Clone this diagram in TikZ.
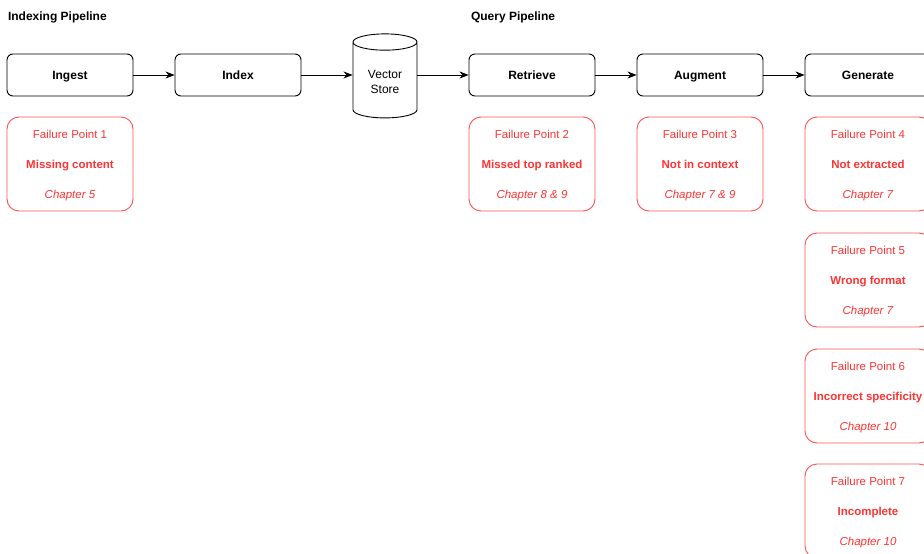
\documentclass[tikz,border=0pt]{standalone}
\usepackage{fontspec}
\setmainfont{Liberation Sans}
\usetikzlibrary{shapes.geometric,arrows.meta}
\definecolor{failred}{RGB}{255,51,51}
\begin{document}
\begin{tikzpicture}[x=1pt,y=-1pt,
    stage/.style={draw, rounded corners=6pt, line width=0.9pt,
        minimum width=126pt, minimum height=42pt,
        text height=8.6pt, text depth=0pt,
        font=\fontsize{12}{14}\selectfont\bfseries},
    failbox/.style={draw=failred!85, rounded corners=12pt, line width=0.9pt,
        minimum width=126pt, minimum height=94pt, text=failred,
        text height=70pt, text depth=2pt,
        align=center, font=\fontsize{11.5}{30}\selectfont},
    flow/.style={-{Stealth[length=9pt,width=7pt]}, line width=0.9pt}]

    \def\rowA{75}     
    \def\rowB{164}    

    \useasboundingbox (0,0) rectangle (924,554);

    % pipeline titles
    \node[anchor=west, font=\fontsize{12}{14}\selectfont\bfseries] (titleA) at (4.5,17.5) {Indexing Pipeline};
    \node[anchor=west, font=\fontsize{12}{14}\selectfont\bfseries] (titleB) at (467.5,17.5) {Query Pipeline};

    % indexing stages
    \node[stage] (ingest) at (70,\rowA) {Ingest};
    \node[stage] (index) at (238,\rowA) {Index};
    \node[cylinder, shape border rotate=90, draw, line width=0.9pt, aspect=0.4,
        minimum width=64pt, minimum height=84pt, align=center,
        font=\fontsize{12}{15}\selectfont] (store) at (385,82) {Vector\\Store};

    % query stages
    \node[stage] (retrieve) at (532,\rowA) {Retrieve};
    \node[stage] (augment) at (700,\rowA) {Augment};
    \node[stage] (generate) at (868,\rowA) {Generate};

    \draw[flow] (ingest) -- (index);
    \draw[flow] (index) -- (index -| store.west);
    \draw[flow] (store.east |- retrieve) -- (retrieve);
    \draw[flow] (retrieve) -- (augment);
    \draw[flow] (augment) -- (generate);

    % failure points
    \node[failbox] (fp1) at (70,\rowB) {Failure Point 1\\\textbf{Missing content}\\\textit{Chapter 5}};
    \node[failbox] (fp2) at (532,\rowB) {Failure Point 2\\\textbf{Missed top ranked}\\\textit{Chapter 8 \& 9}};
    \node[failbox] (fp3) at (700,\rowB) {Failure Point 3\\\textbf{Not in context}\\\textit{Chapter 7 \& 9}};
    \node[failbox] (fp4) at (868,\rowB) {Failure Point 4\\\textbf{Not extracted}\\\textit{Chapter 7}};
    \node[failbox] (fp5) at (868,280) {Failure Point 5\\\textbf{Wrong format}\\\textit{Chapter 7}};
    \node[failbox] (fp6) at (868,396) {Failure Point 6\\\textbf{Incorrect specificity}\\\textit{Chapter 10}};
    \node[failbox] (fp7) at (868,511) {Failure Point 7\\\textbf{Incomplete}\\\textit{Chapter 10}};
\end{tikzpicture}
\end{document}
